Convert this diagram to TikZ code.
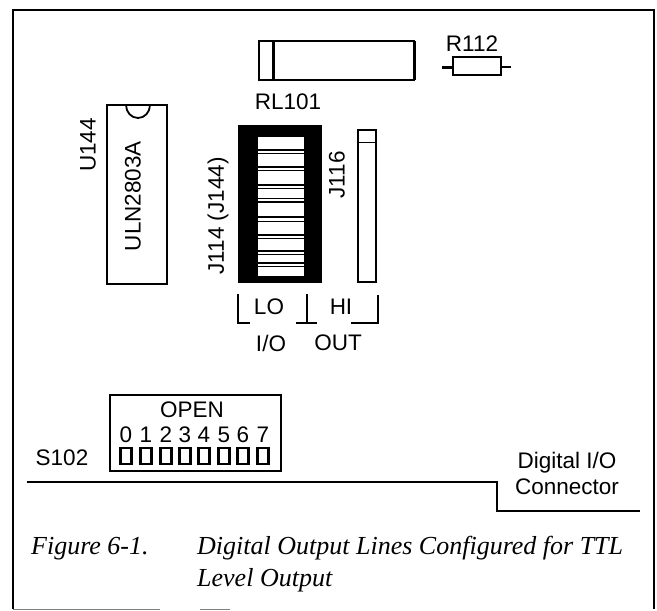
\documentclass[tikz,border=0pt]{standalone}
\usepackage{fontspec}
\setmainfont{Liberation Sans}
\newfontfamily\capfont{Liberation Serif}
\tikzset{
    lbl/.style={inner sep=0pt, font=\fontsize{22.5}{26}\selectfont},
    caption/.style={inner sep=0pt, anchor=base west, font=\capfont\itshape\fontsize{26}{30}\selectfont},
    part/.style={draw=black, line width=1.8pt},
    heavy/.style={draw=black, line width=3pt}
}
\begin{document}
\begin{tikzpicture}[x=1pt,y=-1pt]
    \useasboundingbox (0,0) rectangle (657,611);
    % Khung ngoai
    \draw[line width=2pt] (13,609) -- (13,10) -- (654,10) -- (654,609);
    \draw[gray, line width=1.2pt] (13,609.5) -- (160,609.5);
    \draw[gray, line width=1.2pt] (200,609.5) -- (230,609.5);

    % RL101 va R112
    \draw[part] (259,41) rectangle (414,80);
    \draw[heavy] (273,41) -- (273,80);
    \draw[heavy] (414,41) -- (414,80);
    \node[lbl] (rl) at (288,102) {RL101};
    \draw[part] (453,57) rectangle (501,75);
    \draw[heavy] (442,67) -- (453,67);
    \draw[part] (501,67) -- (511,67);
    \node[lbl] (r) at (472,44) {R112};

    % U144
    \draw[part] (107,105) rectangle (167,284);
    \draw[part] (126,105) arc[start angle=180, end angle=0, x radius=12, y radius=13];
    \node[lbl, rotate=90] (uln) at (133,196) {ULN2803A};
    \node[lbl, rotate=90] (u) at (88,145) {U144};

    % J114 (J144)
    \fill (238,125) rectangle (322,283);
    \fill[white] (258,137) rectangle (304,276);
    \foreach \y in {150,167,185,202,217,235,251,263}
        \draw[line width=1.8pt] (258,\y) -- (304,\y);
    \foreach \y in {153,170,188,198,221,238,254,266}
        \draw[line width=0.7pt] (258,\y) -- (304,\y);
    \node[lbl, rotate=90] (jlo) at (218,216) {J114 (J144)};

    % J116
    \draw[part] (358,130) rectangle (376,282);
    \draw[line width=1pt] (358,142) -- (376,142);
    \node[lbl, rotate=90] (jhi) at (337,175) {J116};

    % LO / HI
    \draw[part] (238,294) -- (238,323) -- (250,323);
    \draw[part] (307,294) -- (307,323);
    \draw[part] (296,323) -- (317,323);
    \draw[part] (378,295) -- (378,323) -- (351,323);
    \node[lbl] (lo) at (269,307) {LO};
    \node[lbl] (hi) at (341,307) {HI};
    \node[lbl] (io) at (271,343) {I/O};
    \node[lbl] (out) at (338,343) {OUT};

    % S102
    \draw[part] (110,395) rectangle (281,471);
    \node[lbl] (open) at (192,410) {OPEN};
    \node[lbl] (s) at (62,458) {S102};
    \foreach \i/\x in {0/126,1/146,2/166,3/185,4/204,5/224,6/243,7/263} {
        \node[lbl] (d\i) at (\x,435) {\i};
        \draw[line width=2.2pt] (\x-5.5,448) rectangle (\x+5.5,464);
    }

    % Connector
    \draw[line width=2.4pt] (27,482) -- (497,482) -- (497,511) -- (640,511);
    \node[lbl, align=center] (conn) at (567,473) {Digital I/O\\Connector};

    % Chu thich
    \node[caption] (fig) at (31,554) {Figure 6-1.};
    \node[caption] (title) at (197,554) {Digital Output Lines Configured for TTL};
    \node[caption] (title2) at (197,586) {Level Output};
\end{tikzpicture}
\end{document}
